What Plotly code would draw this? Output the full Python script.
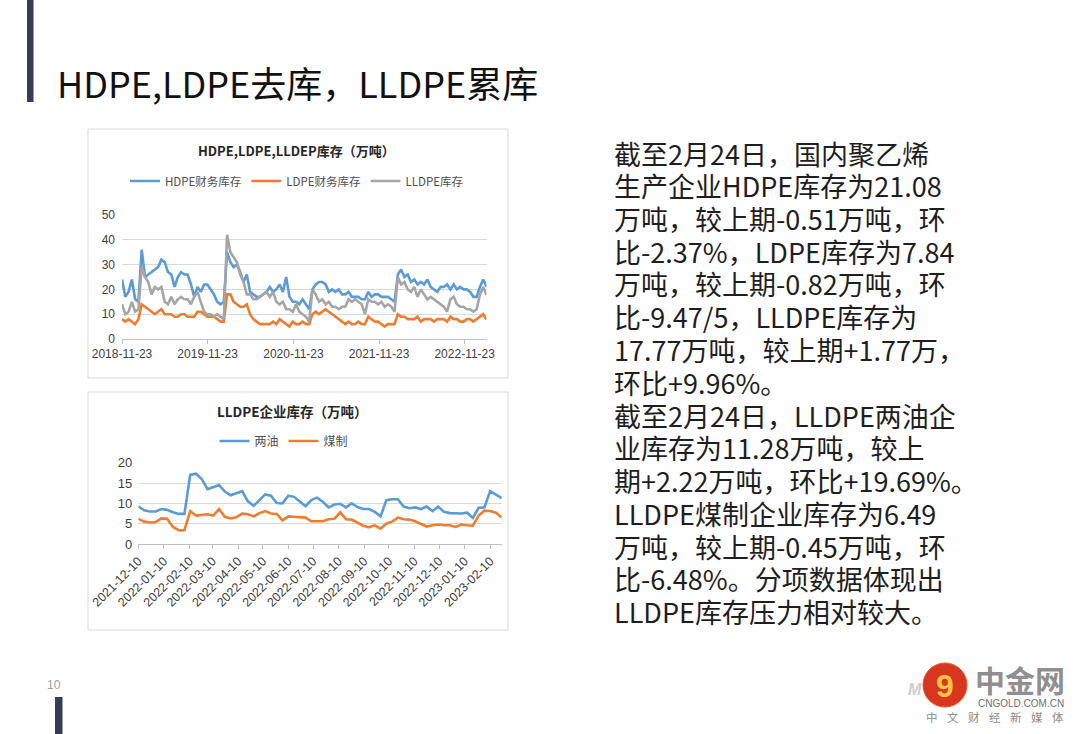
import pandas as pd
import plotly.graph_objects as go

W, H = 1080, 734

# ---------------- data: top chart (biweekly, 2018-11-23 .. 2023-02-24) ----------------
top_start = "2018-11-23"
top_end = "2023-02-24"
hdpe = [24, 17, 19, 24, 16, 15, 36, 25, 26, 27,
        28, 29, 32, 31, 27, 26, 21, 25, 27, 26,
        26, 22, 17, 21, 19, 22, 22, 20, 18, 15,
        14, 15, 35, 31, 29, 30, 27, 23, 26, 19,
        18, 17, 17, 18, 19, 21, 19, 20, 22, 19,
        25, 17, 15, 15, 14, 16, 14, 12, 20, 22,
        23, 23, 22, 19, 20, 19, 20, 18, 18, 19,
        17, 17, 17, 16, 16, 19, 17, 18, 18, 17,
        17, 17, 16, 15, 26, 28, 25, 26, 23, 24,
        22, 23, 22, 24, 21, 20, 19, 21, 21, 22,
        20, 22, 20, 21, 20, 20, 19, 17, 17, 21,
        24, 21.08]
lldpe = [14, 10, 11, 15, 11, 12, 29, 25, 23, 18,
         21, 20, 21, 15, 14, 17, 14, 16, 17, 16,
         16, 14, 17, 19, 15, 11, 10, 10, 9, 10,
         9, 8, 42, 35, 33, 31, 26, 23, 18, 18,
         16, 16, 17, 18, 19, 17, 19, 15, 14, 15,
         12, 12, 11, 14, 11, 10, 9, 7, 20, 18,
         15, 16, 14, 15, 13, 13, 12, 13, 13, 16,
         15, 16, 15, 14, 10, 16, 15, 15, 14, 15,
         13, 14, 13, 11, 25, 22, 23, 20, 19, 21,
         17, 20, 18, 16, 17, 16, 15, 14, 13, 11,
         16, 17, 14, 13, 13, 12, 12, 11, 12, 18,
         21, 17.77]
ldpe = [8, 7, 8, 7, 6, 8, 14, 13, 12, 11,
        10, 11, 12, 10, 10, 10, 9, 9, 10, 10,
        9, 9, 9, 11, 11, 10, 9, 9, 9, 8,
        7, 7, 18, 18, 15, 14, 13, 13, 14, 10,
        8, 7, 6, 6, 6, 6, 7, 6, 8, 7,
        6, 5, 7, 6, 6, 7, 6, 6, 10, 11,
        10, 11, 12, 11, 10, 9, 8, 7, 6, 7,
        6, 6, 7, 6, 6, 9, 8, 7, 7, 6,
        5, 6, 6, 6, 10, 9, 9, 8, 8, 8,
        9, 7, 8, 8, 8, 7, 8, 8, 8, 7,
        9, 8, 8, 7, 7, 8, 8, 7, 8, 9,
        10, 7.84]
top_dates = pd.date_range(top_start, periods=len(hdpe), freq="14D")
top_ticks = ["2018-11-23", "2019-11-23", "2020-11-23", "2021-11-23", "2022-11-23"]

# ---------------- data: bottom chart (weekly, 2021-12-10 .. 2023-02-24) ----------------
bot_start = "2021-12-10"
bot_end = "2023-02-24"
liangyou = [9.3, 8.3, 8.0, 8.0, 8.6, 8.4, 7.8, 7.4, 7.4, 17.0,
            17.3, 16.0, 13.5, 14.0, 14.5, 12.9, 12.0, 12.5, 13.0, 10.5,
            9.4, 10.8, 12.2, 11.9, 10.1, 10.0, 11.9, 11.6, 10.5, 9.3,
            10.8, 11.4, 10.4, 9.0, 9.7, 9.9, 9.0, 10.0, 9.1, 8.6,
            8.6, 7.9, 6.8, 10.8, 11.0, 11.0, 9.2, 8.8, 9.0, 8.6,
            9.2, 8.1, 9.2, 7.9, 7.6, 7.5, 7.5, 7.7, 6.4, 8.9,
            9.0, 13.0, 12.1, 11.28]
meizhi = [6.2, 5.5, 5.3, 5.4, 6.3, 6.2, 4.2, 3.4, 3.4, 8.1,
          7.0, 7.1, 7.3, 7.0, 8.6, 6.7, 6.3, 6.6, 7.5, 7.3,
          6.8, 7.6, 8.1, 7.5, 7.4, 5.8, 6.8, 6.7, 6.6, 6.5,
          5.6, 5.6, 5.6, 6.1, 6.2, 7.8, 6.1, 6.0, 5.2, 4.5,
          4.1, 4.6, 3.8, 5.0, 5.5, 6.5, 6.1, 6.0, 5.6, 5.0,
          4.3, 4.6, 4.8, 4.6, 4.6, 4.2, 4.8, 4.6, 4.5, 7.0,
          8.2, 8.1, 7.7, 6.49]
bot_dates = pd.date_range(bot_start, periods=len(liangyou), freq="7D")
bot_ticks = ["2021-12-10", "2022-01-10", "2022-02-10", "2022-03-10", "2022-04-10",
             "2022-05-10", "2022-06-10", "2022-07-10", "2022-08-10", "2022-09-10",
             "2022-10-10", "2022-11-10", "2022-12-10", "2023-01-10", "2023-02-10"]

# ---------------- texts ----------------
page_title = "HDPE,LDPE去库，LLDPE累库"
top_title = "HDPE,LDPE,LLDEP库存（万吨）"
bot_title = "LLDPE企业库存（万吨）"
body_lines = [
    "截至2月24日，国内聚乙烯",
    "生产企业HDPE库存为21.08",
    "万吨，较上期-0.51万吨，环",
    "比-2.37%，LDPE库存为7.84",
    "万吨，较上期-0.82万吨，环",
    "比-9.47/5，LLDPE库存为",
    "17.77万吨，较上期+1.77万，",
    "环比+9.96%。",
    "截至2月24日，LLDPE两油企",
    "业库存为11.28万吨，较上",
    "期+2.22万吨，环比+19.69%。",
    "LLDPE煤制企业库存为6.49",
    "万吨，较上期-0.45万吨，环",
    "比-6.48%。分项数据体现出",
    "LLDPE库存压力相对较大。",
]

BLUE, ORANGE, GRAY = "#5B9BD5", "#ED7D31", "#A5A5A5"
CJK = "Noto Sans CJK SC"
LAT = "Liberation Sans, Arial, sans-serif"


def px(x):
    return x / W


def py(y):
    return 1 - y / H


fig = go.Figure()
fig.add_trace(go.Scatter(x=top_dates, y=hdpe, name="HDPE财务库存", mode="lines",
                         line=dict(color=BLUE, width=2.6), xaxis="x", yaxis="y", legend="legend"))
fig.add_trace(go.Scatter(x=top_dates, y=ldpe, name="LDPE财务库存", mode="lines",
                         line=dict(color=ORANGE, width=2.6), xaxis="x", yaxis="y", legend="legend"))
fig.add_trace(go.Scatter(x=top_dates, y=lldpe, name="LLDPE库存", mode="lines",
                         line=dict(color=GRAY, width=2.6), xaxis="x", yaxis="y", legend="legend"))
fig.add_trace(go.Scatter(x=bot_dates, y=liangyou, name="两油", mode="lines",
                         line=dict(color=BLUE, width=2.6), xaxis="x2", yaxis="y2", legend="legend2"))
fig.add_trace(go.Scatter(x=bot_dates, y=meizhi, name="煤制", mode="lines",
                         line=dict(color=ORANGE, width=2.6), xaxis="x2", yaxis="y2", legend="legend2"))

tickfont_top = dict(family=LAT, size=12, color="#404040")
tickfont_bot = dict(family=LAT, size=12.5, color="#404040")

shapes = [
    # left decorative bars
    dict(type="rect", xref="paper", yref="paper", x0=px(27), x1=px(33.5), y0=py(102), y1=py(0),
         fillcolor="#383B53", line=dict(width=0)),
    dict(type="rect", xref="paper", yref="paper", x0=px(55), x1=px(62.5), y0=py(734), y1=py(697),
         fillcolor="#383B53", line=dict(width=0)),
    # chart frames
    dict(type="rect", xref="paper", yref="paper", x0=px(88), x1=px(508), y0=py(378), y1=py(129),
         line=dict(color="#D9D9D9", width=1), fillcolor="rgba(0,0,0,0)", layer="below"),
    dict(type="rect", xref="paper", yref="paper", x0=px(88), x1=px(508), y0=py(630), y1=py(392),
         line=dict(color="#D9D9D9", width=1), fillcolor="rgba(0,0,0,0)", layer="below"),
    # logo circle
    dict(type="circle", xref="paper", yref="paper", x0=px(923), x1=px(967), y0=py(707), y1=py(663),
         fillcolor="#D9361F", line=dict(color="#E0552A", width=1)),
]

annotations = [
    dict(text=page_title, x=px(55), y=py(82), xref="paper", yref="paper", xanchor="left",
         yanchor="middle", showarrow=False, font=dict(family=CJK, size=36, color="#111111")),
    dict(text="<b>" + top_title + "</b>", x=px(296), y=py(150), xref="paper", yref="paper",
         xanchor="center", yanchor="middle", showarrow=False,
         font=dict(family=CJK, size=13, color="#262626")),
    dict(text="<b>" + bot_title + "</b>", x=px(292), y=py(411), xref="paper", yref="paper",
         xanchor="center", yanchor="middle", showarrow=False,
         font=dict(family=CJK, size=13.5, color="#262626")),
    dict(text="10", x=px(54), y=py(685), xref="paper", yref="paper", xanchor="center",
         yanchor="middle", showarrow=False, font=dict(family=LAT, size=12, color="#A0A0A0")),
    # logo texts
    dict(text="<b><i>M</i></b>", x=px(915), y=py(689), xref="paper", yref="paper", xanchor="center",
         yanchor="middle", showarrow=False, font=dict(family=LAT, size=16, color="#CCCCCC")),
    dict(text="<b>9</b>", x=px(945), y=py(686), xref="paper", yref="paper", xanchor="center",
         yanchor="middle", showarrow=False, font=dict(family=LAT, size=32, color="#F6C445")),
    dict(text="<b>中金网</b>", x=px(1020), y=py(679), xref="paper", yref="paper", xanchor="center",
         yanchor="middle", showarrow=False, font=dict(family=CJK, size=30, color="#8F8F8F")),
    dict(text="CNGOLD.COM.CN", x=px(1021), y=py(703), xref="paper", yref="paper", xanchor="center",
         yanchor="middle", showarrow=False, font=dict(family=LAT, size=10, color="#6E6E6E")),
]
for i, ch in enumerate("中文财经新媒体"):
    annotations.append(dict(text=ch, x=px(931.7 + i * 21.1), y=py(717), xref="paper", yref="paper",
                            xanchor="center", yanchor="middle", showarrow=False,
                            font=dict(family=CJK, size=11.5, color="#8A8A8A")))
for i, line in enumerate(body_lines):
    annotations.append(dict(text=line, x=px(612), y=py(153 + 32.75 * i), xref="paper", yref="paper",
                            xanchor="left", yanchor="middle", showarrow=False,
                            font=dict(family=CJK, size=27, color="#1E1E1E")))

fig.update_layout(
    width=W, height=H, autosize=False,
    margin=dict(l=0, r=0, t=0, b=0, pad=0, autoexpand=False),
    paper_bgcolor="white", plot_bgcolor="white",
    font=dict(family=CJK, color="#404040"),
    showlegend=True,
    xaxis=dict(domain=[px(122), px(486.5)], anchor="y", type="date", automargin=False,
               range=[top_start, top_end], tickmode="array", tickvals=top_ticks, ticktext=top_ticks,
               showgrid=False, showline=True, linecolor="#BFBFBF", linewidth=1,
               ticks="outside", ticklen=4, tickcolor="#BFBFBF", tickfont=tickfont_top,
               fixedrange=True),
    yaxis=dict(domain=[py(339), py(215)], anchor="x", range=[0, 50], dtick=10, automargin=False,
               showgrid=True, gridcolor="#D9D9D9", gridwidth=1, zeroline=False, showline=False,
               tickfont=tickfont_top, ticklabelstandoff=6, fixedrange=True),
    xaxis2=dict(domain=[px(138.3), px(501.7)], anchor="y2", type="date", automargin=False,
                range=[bot_start, bot_end], tickmode="array", tickvals=bot_ticks, ticktext=bot_ticks,
                tickangle=-45, showgrid=False, showline=True, linecolor="#BFBFBF", linewidth=1,
                ticks="outside", ticklen=4, tickcolor="#BFBFBF", tickfont=tickfont_bot,
                fixedrange=True),
    yaxis2=dict(domain=[py(544), py(462.7)], anchor="x2", range=[0, 20], dtick=5, automargin=False,
                showgrid=True, gridcolor="#D9D9D9", gridwidth=1, zeroline=False, showline=False,
                tickfont=dict(family=LAT, size=13, color="#404040"), ticklabelstandoff=5,
                fixedrange=True),
    legend=dict(orientation="h", x=px(297), y=py(181), xanchor="center", yanchor="middle",
                font=dict(family=CJK, size=11.5, color="#505050"), bgcolor="rgba(0,0,0,0)",
                itemwidth=30, tracegroupgap=0),
    legend2=dict(orientation="h", x=px(284), y=py(441), xanchor="center", yanchor="middle",
                 font=dict(family=CJK, size=12, color="#505050"), bgcolor="rgba(0,0,0,0)",
                 itemwidth=30),
    shapes=shapes,
    annotations=annotations,
)

fig.write_html("out.html", config={"displayModeBar": False, "staticPlot": True},
               post_script="document.body.style.margin='0';document.body.style.padding='0';")
